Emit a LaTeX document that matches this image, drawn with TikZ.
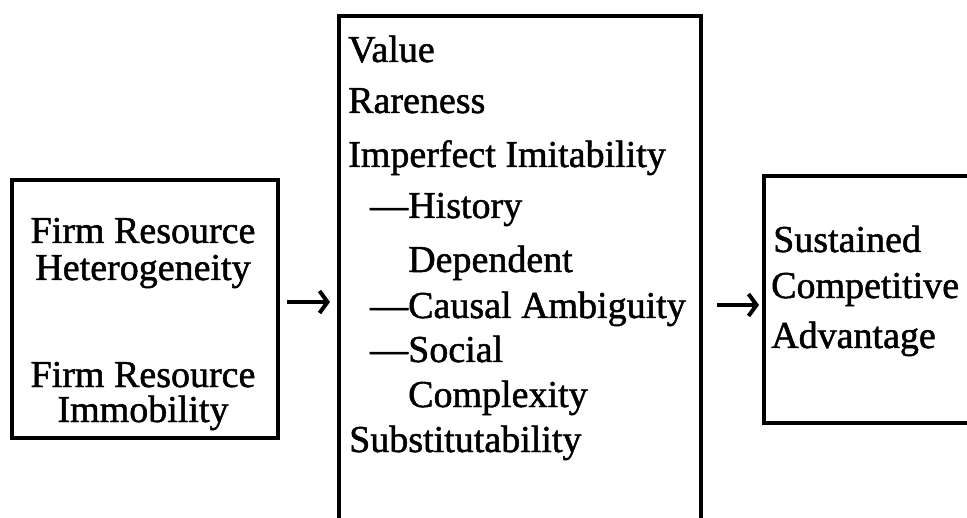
\documentclass[tikz,border=0pt]{standalone}
\usepackage{fontspec}
\setmainfont[FakeBold=1.3]{Liberation Serif}
\usetikzlibrary{arrows.meta}
\begin{document}
\begin{tikzpicture}[x=1bp,y=-1bp,
  box/.style={draw, line width=4bp, inner sep=0pt, anchor=north west},
  txt/.style={inner sep=0pt, anchor=base west, font=\fontsize{38bp}{38bp}\selectfont},
  ctxt/.style={inner sep=0pt, anchor=base, font=\fontsize{38bp}{38bp}\selectfont},
  arr/.style={line width=3.5bp, -{Straight Barb[length=8bp,width=22bp,line width=4bp]}}]
\useasboundingbox (0,0) rectangle (967,518);
\fill[white] (0,0) rectangle (967,518);
\clip (0,0) rectangle (967,518);
% boxes
\node[box, minimum width=266bp, minimum height=258bp] (lbox) at (10,178) {};
\node[box, minimum width=362bp, minimum height=540bp] (mbox) at (337,14) {};
\node[box, minimum width=260bp, minimum height=247bp] (rbox) at (762,174) {};
% left texts
\node[ctxt] (l1) at (143,243) {Firm Resource};
\node[ctxt] (l2) at (143,280) {Heterogeneity};
\node[ctxt] (l3) at (143,387) {Firm Resource};
\node[ctxt] (l4) at (143,422) {Immobility};
% middle texts
\node[txt] (m1) at (348,62) {Value};
\node[txt] (m2) at (348,113) {Rareness};
\node[txt] (m3) at (348,167) {Imperfect Imitability};
\node[txt] (m4) at (370,218) {—History};
\node[txt] (m5) at (408,272) {Dependent};
\node[txt] (m6) at (370,318) {—Causal Ambiguity};
\node[txt] (m7) at (370,362) {—Social};
\node[txt] (m8) at (408,407) {Complexity};
\node[txt] (m9) at (349,452) {Substitutability};
% right texts
\node[txt] (r1) at (773,252) {Sustained};
\node[txt] (r2) at (771,298) {Competitive};
\node[txt] (r3) at (771,348) {Advantage};
% arrows
\coordinate (a1) at (0,302);
\coordinate (a2) at (0,305);
\draw[arr, shorten <=7bp, shorten >=7bp] (lbox.east |- a1) -- (mbox.west |- a1);
\draw[arr, shorten <=14bp, shorten >=3bp] (mbox.east |- a2) -- (rbox.west |- a2);
\end{tikzpicture}
\end{document}
